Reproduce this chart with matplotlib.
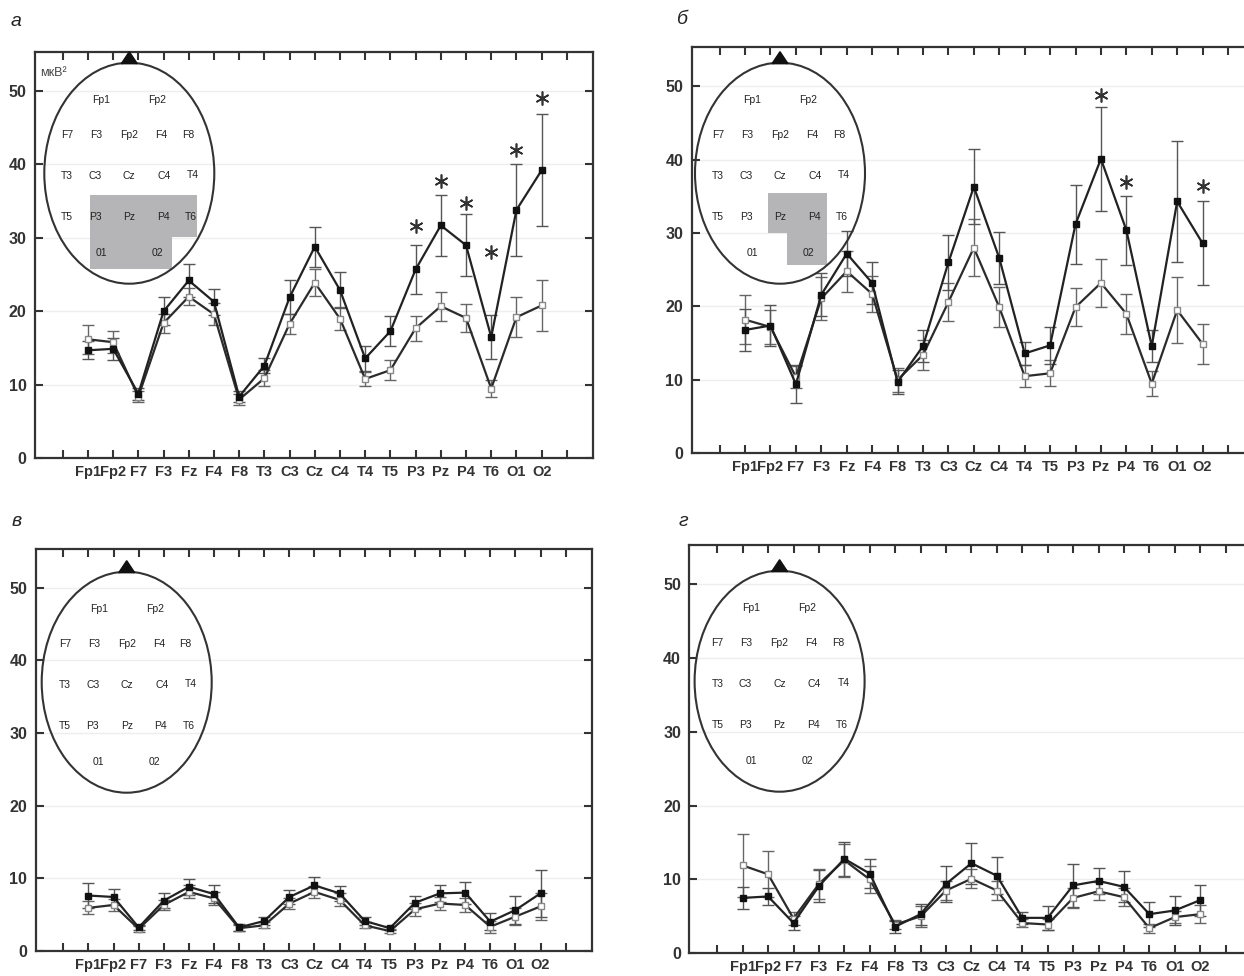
import matplotlib
matplotlib.use("Agg")
import matplotlib.pyplot as plt
from matplotlib.patches import Ellipse, Polygon

plt.rcParams['font.family'] = ['Liberation Sans', 'DejaVu Sans']

# electrode sites along the x axis
electrodes = ['Fp1', 'Fp2', 'F7', 'F3', 'Fz', 'F4', 'F8', 'T3', 'C3', 'Cz',
              'C4', 'T4', 'T5', 'P3', 'Pz', 'P4', 'T6', 'O1', 'O2']

# panel a
a_black = [14.7, 14.9, 8.8, 20.0, 24.2, 21.3, 8.4, 12.6, 21.9, 28.8,
           22.9, 13.6, 17.3, 25.7, 31.7, 29.0, 16.5, 33.8, 39.2]
a_black_err = [1.2, 1.5, 0.8, 1.9, 2.3, 1.8, 0.8, 1.0, 2.3, 2.7,
               2.5, 1.7, 2.0, 3.3, 4.1, 4.2, 3.0, 6.3, 7.6]
a_white = [16.2, 15.8, 8.4, 18.4, 22.0, 19.6, 8.0, 10.9, 18.3, 23.9,
           19.0, 10.8, 12.0, 17.7, 20.7, 19.1, 9.5, 19.2, 20.8]
a_white_err = [2.0, 1.5, 0.7, 1.3, 1.2, 1.5, 0.7, 1.1, 1.4, 1.8,
               1.6, 1.0, 1.4, 1.7, 2.0, 1.9, 1.2, 2.7, 3.5]
a_stars = ['P3', 'Pz', 'P4', 'T6', 'O1', 'O2']
a_star_y = [31.6, 37.7, 34.8, 28.1, 41.9, 49.0]

# panel b
b_black = [16.8, 17.4, 9.4, 21.6, 27.2, 23.2, 9.7, 14.6, 26.0, 36.3,
           26.6, 13.6, 14.7, 31.2, 40.1, 30.4, 14.6, 34.3, 28.6]
b_black_err = [2.9, 2.8, 2.6, 2.9, 3.1, 2.8, 1.6, 2.2, 3.7, 5.1,
               3.6, 1.6, 2.5, 5.4, 7.1, 4.7, 2.2, 8.2, 5.7]
b_white = [18.2, 17.2, 10.4, 21.1, 24.8, 21.7, 10.0, 13.4, 20.6, 28.0,
           19.9, 10.5, 10.9, 19.9, 23.2, 19.0, 9.5, 19.5, 14.9]
b_white_err = [3.3, 2.3, 1.5, 2.9, 2.8, 2.5, 1.6, 2.1, 2.6, 3.9,
               2.7, 1.5, 1.8, 2.6, 3.3, 2.7, 1.7, 4.5, 2.7]
b_stars = ['Pz', 'P4', 'O2']
b_star_y = [48.8, 36.9, 36.4]

# panel c
c_black = [7.6, 7.4, 3.2, 6.9, 8.8, 7.8, 3.2, 4.1, 7.4, 9.0,
           7.9, 4.1, 3.1, 6.6, 7.9, 8.0, 4.0, 5.6, 7.9]
c_black_err = [1.7, 1.1, 0.4, 1.0, 1.1, 1.2, 0.5, 0.5, 1.0, 1.1,
               1.0, 0.5, 0.3, 0.9, 1.2, 1.5, 1.2, 1.9, 3.2]
c_white = [5.9, 6.3, 3.0, 6.3, 8.1, 7.2, 3.1, 3.5, 6.5, 8.1,
           7.0, 3.5, 2.7, 5.7, 6.5, 6.3, 3.3, 4.7, 6.1]
c_white_err = [0.9, 0.8, 0.4, 0.7, 0.9, 0.9, 0.4, 0.4, 0.7, 0.8,
               0.9, 0.4, 0.3, 0.9, 0.9, 1.0, 0.8, 1.2, 1.9]

# panel d
d_black = [7.5, 7.7, 4.1, 9.1, 12.8, 10.8, 3.6, 5.3, 9.4, 12.2,
           10.5, 4.8, 4.8, 9.2, 9.8, 9.0, 5.3, 5.8, 7.2]
d_black_err = [1.5, 1.2, 1.0, 2.2, 2.3, 2.0, 0.8, 1.4, 2.4, 2.8,
               2.5, 0.8, 1.6, 2.9, 1.8, 2.1, 1.7, 1.9, 2.1]
d_white = [11.9, 10.7, 4.7, 9.4, 12.6, 10.0, 3.9, 5.0, 8.5, 10.1,
           8.5, 4.1, 3.9, 7.5, 8.4, 7.6, 3.4, 4.9, 5.3]
d_white_err = [4.3, 3.1, 0.9, 2.0, 2.2, 1.8, 0.6, 1.4, 1.3, 1.3,
               1.3, 0.5, 0.7, 1.3, 1.2, 1.2, 0.6, 0.8, 1.2]

yticks = [0, 10, 20, 30, 40, 50]

# head scheme labels (text, x, y) relative to ellipse box, in pixels
head_labels = [('Fp1', 57, 37), ('Fp2', 113, 37),
               ('F7', 23, 72), ('F3', 52, 72), ('Fp2', 85, 72), ('F4', 117, 72), ('F8', 144, 72),
               ('T3', 23, 113), ('C3', 51, 113), ('Cz', 85, 113), ('C4', 120, 113), ('T4', 149, 112),
               ('T5', 23, 154), ('P3', 51, 154), ('Pz', 85, 154), ('P4', 119, 154), ('T6', 147, 154),
               ('01', 57, 190), ('02', 113, 190)]

W, H = 1244, 976
fig = plt.figure(figsize=(W / 100, H / 100), dpi=100)


def px_rect(l, t, r, b):
    return [l / W, 1 - b / H, (r - l) / W, (b - t) / H]


def panel(rect, black, black_err, white, white_err, stars=None, star_y=None):
    ax = fig.add_axes(rect)
    x = list(range(1, len(electrodes) + 1))
    ax.errorbar(x, white, yerr=white_err, fmt='none', ecolor='#666666',
                elinewidth=1, capsize=4, capthick=1, zorder=2)
    ax.errorbar(x, black, yerr=black_err, fmt='none', ecolor='#555555',
                elinewidth=1, capsize=4, capthick=1, zorder=2)
    ax.plot(x, white, color='#2b2b2b', lw=1.6, marker='s', ms=5,
            mfc='white', mec='#888888', mew=1, zorder=3)
    ax.plot(x, black, color='#222222', lw=1.6, marker='s', ms=5,
            mfc='#111111', mec='#111111', zorder=4)
    if stars:
        sx = [electrodes.index(s) + 1 for s in stars]
        ax.plot(sx, star_y, linestyle='none', marker=(6, 2, 0), ms=10,
                mew=1.2, color='#333333', zorder=5)
    ax.set_xlim(-1.1, 21.05)
    ax.set_ylim(0, 55.3)
    ax.set_xticks(range(0, 21))
    ax.set_xticklabels([''] + electrodes + [''])
    ax.set_yticks(yticks)
    ax.yaxis.grid(True, color='#eeeeee', lw=1)
    ax.set_axisbelow(True)
    ax.tick_params(direction='in', length=6, width=1.5, color='#333333',
                   top=True, right=True, labelcolor='#333333')
    ax.tick_params(axis='y', labelsize=11.5, pad=6)
    ax.tick_params(axis='x', labelsize=10.5, pad=5)
    for lab in ax.get_xticklabels() + ax.get_yticklabels():
        lab.set_fontweight('bold')
    for sp in ax.spines.values():
        sp.set_color('#333333')
        sp.set_linewidth(1.6)
    return ax


def head(left, top, shaded=None):
    ia = fig.add_axes(px_rect(left - 3, top - 14, left + 173, top + 224))
    ia.set_xlim(-3, 173)
    ia.set_ylim(224, -14)
    ia.axis('off')
    if shaded:
        ia.add_patch(Polygon(shaded, closed=True, fc='#b5b5b7', ec='none', zorder=1))
    ia.add_patch(Ellipse((85, 110.5), 170, 221, fill=False, ec='#333333', lw=1.5, zorder=2))
    ia.add_patch(Polygon([(77, 1), (93, 1), (85, -11)], closed=True, fc='#111111', ec='#111111', zorder=3))
    for txt, tx, ty in head_labels:
        ia.text(tx, ty, txt, ha='center', va='center', fontsize=7.5, color='#222222', zorder=4)
    return ia


ax_a = panel(px_rect(35, 52, 593.3, 458.3), a_black, a_black_err, a_white, a_white_err, a_stars, a_star_y)
ax_b = panel(px_rect(691.7, 47.3, 1254.7, 453.3), b_black, b_black_err, b_white, b_white_err, b_stars, b_star_y)
ax_c = panel(px_rect(35.7, 549.3, 592, 950.7), c_black, c_black_err, c_white, c_white_err)
ax_d = panel(px_rect(689.3, 545, 1252.3, 953.3), d_black, d_black_err, d_white, d_white_err)

ax_a.text(0.01, 0.949, 'мкВ²', transform=ax_a.transAxes, ha='left', va='center',
          fontsize=9, color='#444444')

head(44.3, 62.7, shaded=[(45.7, 132.3), (152.4, 132.3), (152.4, 174), (127.4, 174),
                         (127.4, 206.6), (45.7, 206.6)])
head(695, 62.7, shaded=[(73.3, 130.6), (132.3, 130.6), (132.3, 202.3), (92.3, 202.3),
                        (92.3, 170), (73.3, 170)])
head(41.7, 571.7)
head(694.6, 570.7)

for txt, lx, ly in [('а', 16, 22), ('б', 683, 20), ('в', 17, 522), ('г', 683, 522)]:
    fig.text(lx / W, 1 - ly / H, txt, fontsize=14, fontstyle='italic',
             ha='center', va='center', color='#222222')

fig.savefig('out.png', dpi=100)
